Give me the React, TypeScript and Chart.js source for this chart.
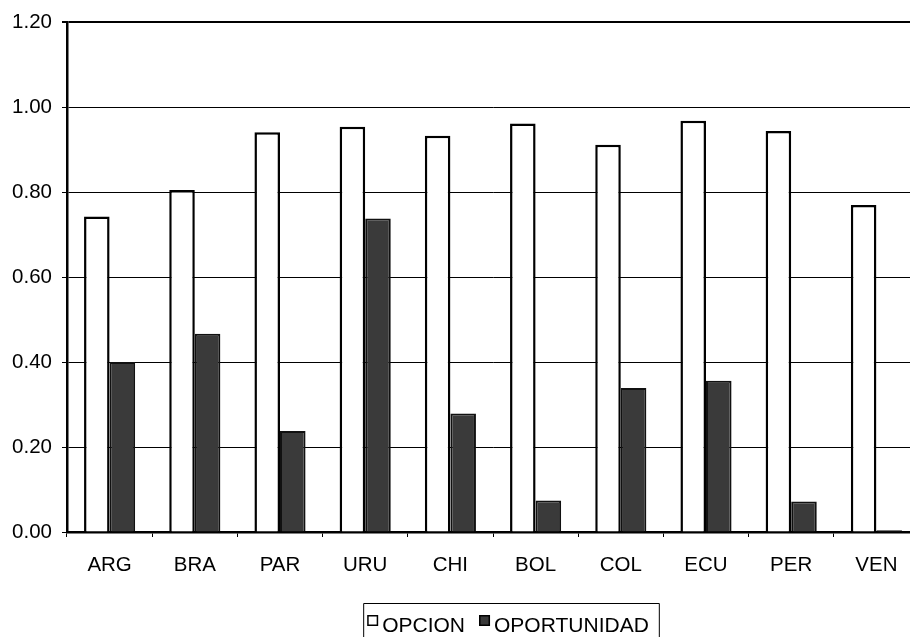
import { useEffect, useRef } from "react";
import { Chart, registerables } from "chart.js";

Chart.register(...registerables);

const categories = ["ARG", "BRA", "PAR", "URU", "CHI", "BOL", "COL", "ECU", "PER", "VEN"];
const opcion = [0.743, 0.805, 0.941, 0.954, 0.933, 0.962, 0.912, 0.968, 0.944, 0.77];
const oportunidad = [0.4, 0.467, 0.238, 0.738, 0.279, 0.074, 0.339, 0.356, 0.072, 0.004];
const seriesLabels = ["OPCION", "OPORTUNIDAD"];
const yTicks = [0, 0.2, 0.4, 0.6, 0.8, 1.0, 1.2];

const FONT = '"Liberation Sans", Arial, Helvetica, sans-serif';

const boxLegend = {
  id: "boxLegend",
  afterDraw(chart: any, _args: any, opts: any) {
    const ctx: CanvasRenderingContext2D = chart.ctx;
    ctx.save();
    ctx.font = `${opts.fontSize}px ${FONT}`;
    const items = chart.data.datasets.map((d: any) => ({
      label: d.label,
      fill: d.backgroundColor,
      w: ctx.measureText(d.label).width,
    }));
    const sw = opts.swatch;
    const gap = opts.gap;
    const itemGap = opts.itemGap;
    let total = 0;
    items.forEach((it: any, i: number) => {
      total += sw + gap + it.w + (i < items.length - 1 ? itemGap : 0);
    });
    let x = opts.centerX - total / 2;
    const top = opts.top;
    ctx.fillStyle = "#ffffff";
    ctx.fillRect(x - opts.padL, top, total + opts.padL + opts.padR, chart.height - top + 10);
    ctx.strokeStyle = "#000";
    ctx.lineWidth = 1;
    ctx.beginPath();
    ctx.moveTo(x - opts.padL + 0.5, chart.height + 5);
    ctx.lineTo(x - opts.padL + 0.5, top + 0.5);
    ctx.lineTo(x + total + opts.padR + 0.5, top + 0.5);
    ctx.lineTo(x + total + opts.padR + 0.5, chart.height + 5);
    ctx.stroke();
    items.forEach((it: any) => {
      ctx.fillStyle = it.fill;
      ctx.fillRect(x, opts.swatchTop, sw, sw);
      ctx.lineWidth = 1.5;
      ctx.strokeStyle = "#000";
      ctx.strokeRect(x + 0.75, opts.swatchTop + 0.75, sw - 1.5, sw - 1.5);
      x += sw + gap;
      ctx.fillStyle = "#000";
      ctx.textBaseline = "alphabetic";
      ctx.textAlign = "left";
      ctx.fillText(it.label, x, opts.baseline);
      x += it.w + itemGap;
    });
    ctx.restore();
  },
};

export default function App() {
  const ref = useRef<HTMLCanvasElement | null>(null);

  useEffect(() => {
    if (!ref.current) return;
    const chart = new Chart(ref.current, {
      type: "bar",
      data: {
        labels: categories,
        datasets: [
          {
            label: seriesLabels[0],
            data: opcion,
            backgroundColor: "#ffffff",
            borderColor: "#000000",
            borderWidth: 2.5,
            categoryPercentage: 0.6,
            barPercentage: 1.0,
          },
          {
            label: seriesLabels[1],
            data: oportunidad,
            backgroundColor: "#3a3a3a",
            borderColor: "#111111",
            borderWidth: 2,
            categoryPercentage: 0.6,
            barPercentage: 1.0,
          },
        ],
      },
      plugins: [boxLegend],
      options: {
        animation: false,
        responsive: false,
        maintainAspectRatio: false,
        layout: { padding: { left: 0, top: 17, right: 6, bottom: 0 } },
        plugins: {
          legend: { display: false },
          tooltip: { enabled: false },
          boxLegend: {
            fontSize: 21,
            swatch: 11,
            gap: 4,
            itemGap: 14,
            centerX: 508,
            top: 603,
            padL: 4,
            padR: 10,
            swatchTop: 615,
            baseline: 632,
          },
        } as any,
        scales: {
          x: {
            z: 1,
            offset: true,
            grid: {
              display: true,
              drawOnChartArea: false,
              drawTicks: true,
              tickLength: 5,
              color: "#000",
              offset: true,
            },
            border: { display: true, color: "#000", width: 2.5 },
            ticks: {
              color: "#000",
              font: { family: FONT, size: 20.5 },
              padding: 16,
              maxRotation: 0,
            },
            afterFit: (scale: any) => {
              scale.height = 105;
            },
          },
          y: {
            min: 0,
            max: 1.2,
            afterBuildTicks: (scale: any) => {
              scale.ticks = yTicks.map((v) => ({ value: v }));
            },
            grid: {
              color: "#000",
              lineWidth: (c: any) => (c.tick && Math.abs(c.tick.value - 1.2) < 1e-9 ? 2 : 1),
              drawTicks: true,
              tickLength: 5,
            },
            border: { display: true, color: "#000", width: 2.5 },
            ticks: {
              color: "#000",
              font: { family: FONT, size: 20.5 },
              padding: 10,
              callback: (v: any) => Number(v).toFixed(2),
            },
            afterFit: (scale: any) => {
              scale.width = 67;
            },
          },
        },
      },
    });
    return () => chart.destroy();
  }, []);

  return (
    <div
      style={{
        position: "fixed",
        left: 0,
        top: 0,
        width: 910,
        height: 637,
        overflow: "hidden",
        background: "#fff",
      }}
    >
      <canvas ref={ref} width={925} height={637} style={{ display: "block", width: 925, height: 637 }} />
    </div>
  );
}
